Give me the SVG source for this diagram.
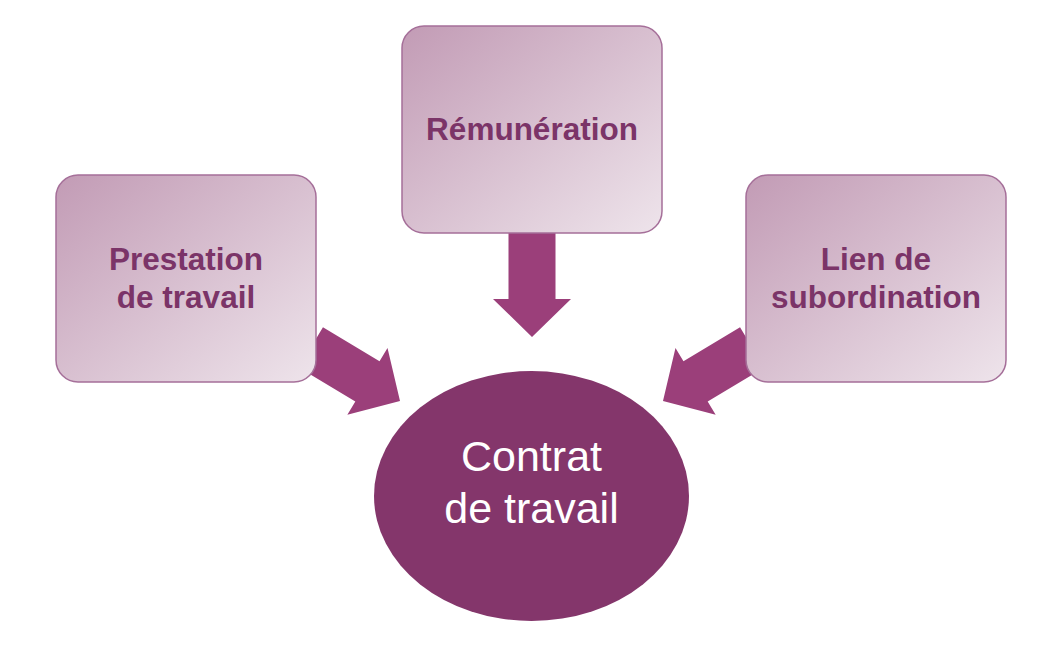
<svg xmlns="http://www.w3.org/2000/svg" width="1062" height="658" viewBox="0 0 1062 658">
<defs>
<linearGradient id="boxGrad" x1="0" y1="0" x2="1" y2="1">
<stop offset="0" stop-color="#c29bb5"/>
<stop offset="1" stop-color="#eee4eb"/>
</linearGradient>
<path id="arrowShape" d="M0,-23.5 L66,-23.5 L66,-39 L104,0 L66,39 L66,23.5 L0,23.5 Z"/>
</defs>
<style>
.box{fill:url(#boxGrad);stroke:#a56f99;stroke-width:1.5}
.lbl{font-family:"Liberation Sans",Arial,sans-serif;font-weight:bold;font-size:31.5px;fill:#7b3468;text-anchor:middle}
.clbl{font-family:"Liberation Sans",Arial,sans-serif;font-size:43px;fill:#ffffff;text-anchor:middle}
.arrow{fill:#9b3f7a}
</style>
<rect width="1062" height="658" fill="#ffffff"/>
<g id="connectors">
<use href="#arrowShape" class="arrow" transform="translate(400,401) rotate(31) translate(-104,0)"/>
<use href="#arrowShape" class="arrow" transform="translate(532,337) rotate(90) translate(-104,0)"/>
<use href="#arrowShape" class="arrow" transform="translate(663,401) rotate(149) translate(-104,0)"/>
</g>
<g id="node-prestation">
<rect class="box" x="56" y="175" width="260" height="207" rx="22"/>
<text class="lbl" x="186" y="270">Prestation</text>
<text class="lbl" x="186" y="308">de travail</text>
</g>
<g id="node-remuneration">
<rect class="box" x="402" y="26" width="260" height="207" rx="22"/>
<text class="lbl" x="532" y="140">Rémunération</text>
</g>
<g id="node-subordination">
<rect class="box" x="746" y="175" width="260" height="207" rx="22"/>
<text class="lbl" x="876" y="270">Lien de</text>
<text class="lbl" x="876" y="308">subordination</text>
</g>
<g id="node-contrat">
<ellipse cx="531.5" cy="496" rx="157.5" ry="125" fill="#84366b"/>
<text class="clbl" x="531.5" y="471">Contrat</text>
<text class="clbl" x="531.5" y="523">de travail</text>
</g>
</svg>
